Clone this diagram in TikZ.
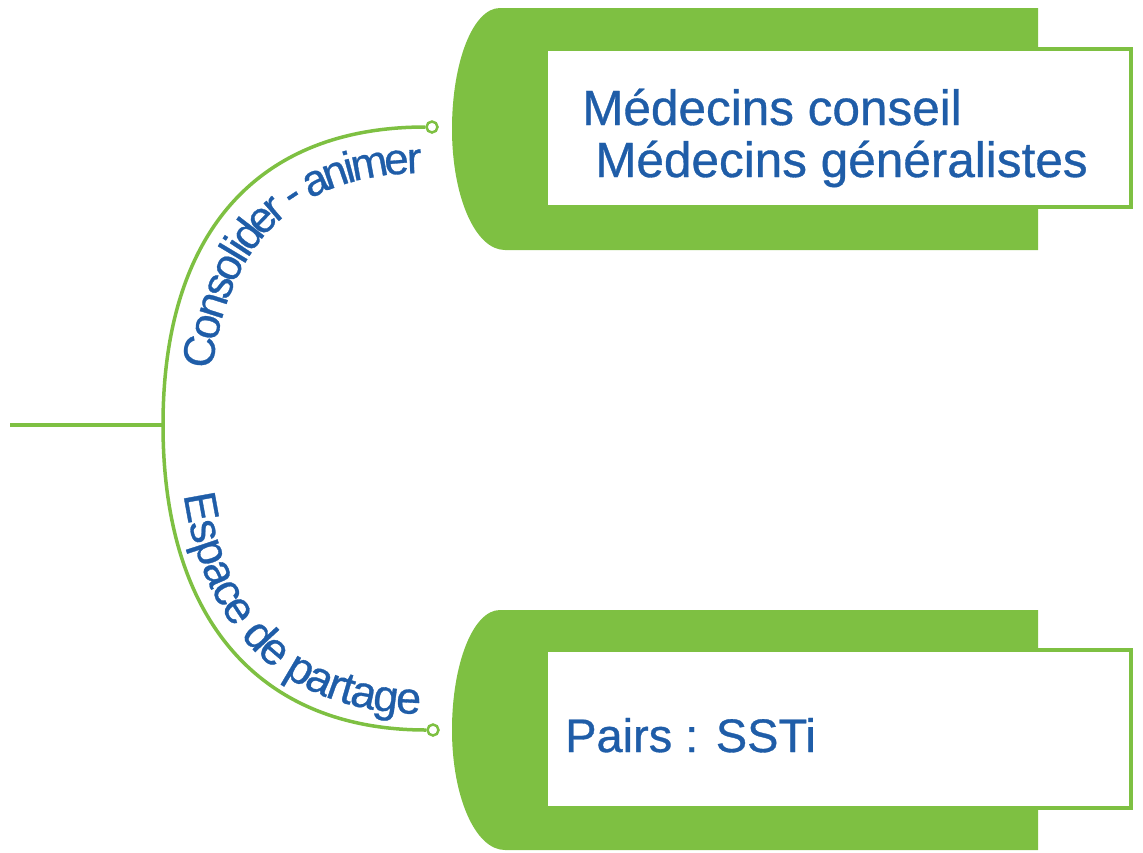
\documentclass[tikz,border=0pt]{standalone}
\usepackage{fontspec}
\setmainfont{Liberation Sans}[RawFeature={embolden=0.7}]
\usepackage{xcolor}
\usepackage{tikz}
\usetikzlibrary{shapes,arrows,positioning,decorations.text}
\definecolor{mapgreen}{RGB}{126,192,66}
\definecolor{mapblue}{RGB}{31,93,168}
\newcommand{\boxfont}{\fontsize{49.5}{52}\selectfont}
\newcommand{\curvefont}{\fontsize{44}{46}\selectfont}
\tikzstyle{greenshape} = [fill=mapgreen, draw=none]
\tikzstyle{textbox} = [rectangle, draw=mapgreen, line width=4pt, fill=white,
    minimum width=585pt, minimum height=158pt, inner sep=0pt]
\tikzstyle{boxtext} = [text=mapblue, font=\boxfont, inner sep=0pt,
    anchor=base west]
\tikzstyle{branch} = [draw=mapgreen, line width=3.5pt]
\tikzstyle{knob} = [circle, draw=mapgreen, fill=white, line width=2.5pt,
    minimum size=11pt, inner sep=0pt]
\tikzstyle{curvetext} = [decorate]

\begin{document}
\begin{tikzpicture}[x=1pt, y=-1pt]
    \useasboundingbox (0,0) rectangle (1143,852);
    % Green backs
    \path [greenshape] (1038,8) -- (500,8) .. controls (473,8) and (452,62) ..
        (452,129) .. controls (452,196) and (475,250) .. (505,250) --
        (1038,250) -- cycle;
    \path [greenshape] (1038,610) -- (500,610) .. controls (473,610) and (452,664) ..
        (452,730) .. controls (452,796) and (475,850) .. (505,850) --
        (1038,850) -- cycle;
    % Place nodes
    \node [textbox] (conseil) at (838.5,128) {};
    \node [textbox] (pairs) at (838.5,729) {};
    \node [boxtext] (conseil1) at (582,125) {Médecins conseil};
    \node [boxtext] (conseil2) at (595,177) {Médecins généralistes};
    \node [boxtext, font=\fontsize{47}{50}\selectfont] (pairs1) at (565,752) {Pairs : SSTi};
    \coordinate (root) at (10,425);
    \coordinate (fork) at (163,425);
    \node [knob] (topend) at (432,127) {};
    \node [knob] (botend) at (433,730) {};
    % Draw edges
    \path [branch] (root) -- (fork);
    \path [branch] (fork) .. controls (163,230) and (260,127) .. (topend);
    \path [branch] (fork) .. controls (163,620) and (260,730) .. (botend);
    % Curved labels
    \path [curvetext, decoration={text along path, raise=-46pt,
        text align={left indent=63pt},
        text={|\curvefont\color{mapblue}|Consolider - animer}}]
        (fork) .. controls (163,230) and (260,127) .. (topend);
    \path [curvetext, decoration={text along path, raise=16pt,
        text align={left indent=73pt},
        text={|\fontsize{45}{47}\selectfont\color{mapblue}|Espace de partage}}]
        (fork) .. controls (163,620) and (260,730) .. (botend);
\end{tikzpicture}
\end{document}
